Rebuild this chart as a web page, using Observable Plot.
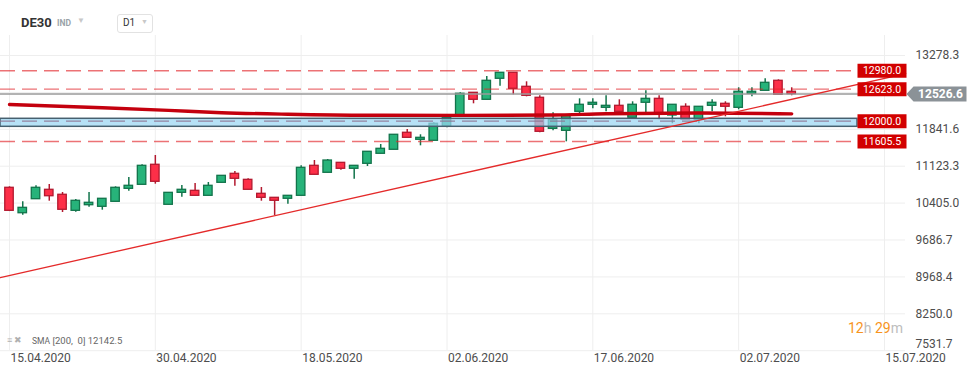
<!DOCTYPE html>
<html>
<head>
<meta charset="utf-8">
<script src="https://cdn.jsdelivr.net/npm/d3@7"></script>
<script src="https://cdn.jsdelivr.net/npm/@observablehq/plot@0.6"></script>
<style>
  html, body { margin: 0; padding: 0; background: #fff; }
  #wrap { position: relative; width: 974px; height: 375px; font-family: Roboto, "Noto Sans", sans-serif; overflow: hidden; }
  #wrap svg { position: absolute; left: 0; top: 0; }
  .ov { position: absolute; white-space: nowrap; }
</style>
</head>
<body>
<div id="wrap"></div>
<script>
// ---- data (bar index 0 = 15.04.2020) ----
const open  = [10703,10208,10481,10664,10567,10255,10364,10333,10430,10683,10761,11151,10372,10605,10644,10547,10800,10975,10858,10586,
               10508,10489,10547,11131,10995,11189,11073,11170,11365,11443,11774,11637,11618,11890,12110,12552,12416,12825,12942,12669,
               12455,11851,11812,12182,12319,12260,12299,12066,12358,12435,12110,12280,12027,12299,12338,12260,12533,12591,12786,12572];
const high  = [10722,10430,10742,10767,10611,10475,10611,10489,10722,10903,11151,11332,10605,10748,10787,10806,10936,11020,10878,10709,
               10508,10547,11131,11234,11254,11189,11131,11404,11546,11735,11838,11735,11968,12066,12552,12552,12870,12942,12942,12766,
               12494,12163,12104,12435,12435,12494,12416,12377,12591,12494,12319,12338,12280,12416,12377,12650,12650,12825,12805,12650];
const low   = [10240,10169,10481,10442,10222,10228,10325,10267,10430,10637,10761,10773,10372,10520,10547,10547,10800,10734,10664,10442,
               10164,10384,10547,10956,10995,11045,10870,11117,11365,11443,11676,11520,11618,11871,12110,12338,12416,12681,12513,12474,
               11774,11812,11598,12143,12241,12182,12143,12066,12163,12027,11949,12027,11949,12182,12085,12221,12474,12591,12513,12494];
const close = [10255,10313,10703,10539,10275,10450,10411,10489,10703,10742,11131,10820,10605,10664,10547,10742,10936,10878,10664,10508,
               10450,10547,11092,10956,11234,11073,11131,11404,11462,11735,11676,11676,11949,12066,12533,12416,12786,12942,12630,12494,
               11793,12027,12104,12319,12358,12299,12182,12319,12435,12124,12319,12027,12280,12358,12280,12572,12572,12747,12513,12526.6];

const smaIdx = [0, 7, 12, 16, 21, 27, 34, 41, 45, 52, 59];
const smaVal = [12325, 12262, 12210, 12165, 12135, 12115, 12112, 12120, 12145, 12158, 12142.5];

const trendIdx = [-0.7, 67.6];
const trendVal = [8955, 12925];

const levelVals = [12980, 12623, 12000, 11605.5];
const zoneLow = 11890, zoneHigh = 12046;
const lastPrice = 12526.6;

const yGridTicks = [13278.3, 12560.0, 11841.6, 11123.3, 10405.0, 9686.7, 8968.4, 8250.0, 7531.7];
const yLabelTicks = [13278.3, 11841.6, 11123.3, 10405.0, 9686.7, 8968.4, 8250.0];
const yBottomTick = 7531.7;
const xTickIdx = [0, 11, 22, 33, 44, 55, 66];
const xTickLabels = ["15.04.2020", "30.04.2020", "18.05.2020", "02.06.2020", "17.06.2020", "02.07.2020", "15.07.2020"];

// ---- build tables ----
const candles = open.map((o, i) => ({i, o, h: high[i], l: low[i], c: close[i], up: close[i] >= o}));
const sma = smaIdx.map((x, k) => ({x, y: smaVal[k]}));
const trend = trendIdx.map((x, k) => ({x, y: trendVal[k]}));
const levels = levelVals.map(v => ({v, label: v.toFixed(1), inZone: v >= zoneLow && v <= zoneHigh}));

const G_FILL = "#27b37a", G_STROKE = "#12744b";
const R_FILL = "#fd2f48", R_STROKE = "#b3192f";

const boxSymbol = { draw(ctx) { ctx.moveTo(-48, -7); ctx.lineTo(1, -7); ctx.lineTo(1, 7); ctx.lineTo(-48, 7); ctx.closePath(); } };
const priceSymbol = { draw(ctx) { ctx.moveTo(1, 0); ctx.lineTo(8, -7.5); ctx.lineTo(61, -7.5); ctx.lineTo(61, 7.5); ctx.lineTo(8, 7.5); ctx.closePath(); } };

const plot = Plot.plot({
  width: 974,
  height: 375,
  marginLeft: 0,
  marginRight: 69,
  marginTop: 35,
  marginBottom: 25,
  style: { fontFamily: "Roboto, sans-serif", fontSize: "12px", color: "#4d4d4d", background: "transparent" },
  x: { type: "linear", domain: [0, 66], range: [9, 884] },
  y: { type: "linear", domain: [yBottomTick, 13278.3], range: [350.2, 55] },
  marks: [
    Plot.gridY(yGridTicks, { stroke: "#eeeeee", strokeOpacity: 1 }),
    Plot.gridX(xTickIdx, { stroke: "#eeeeee", strokeOpacity: 1 }),
    // candles
    Plot.ruleX(candles, { x: "i", y1: "l", y2: "h", stroke: d => d.up ? G_STROKE : R_STROKE, strokeWidth: 1.5 }),
    Plot.rect(candles, {
      x1: d => d.i - 0.32, x2: d => d.i + 0.32,
      y1: d => Math.min(d.o, d.c), y2: d => Math.max(d.o, d.c),
      fill: d => d.up ? G_FILL : R_FILL, stroke: d => d.up ? G_STROKE : R_STROKE, strokeWidth: 1.3
    }),
    // support zone
    Plot.rect([{lo: zoneLow, hi: zoneHigh}], { y1: "lo", y2: "hi", fill: "#9ad6f3", fillOpacity: 0.72, stroke: "#46606f", strokeWidth: 1.5, insetRight: 48 }),
    // dashed levels
    Plot.ruleY(levels, { y: "v", stroke: d => d.inZone ? "#8e7390" : "#e2272b", strokeOpacity: d => d.inZone ? 0.85 : 0.65, strokeWidth: 1.4, strokeDasharray: "15,7" }),
    // last price line
    Plot.ruleY([lastPrice], { stroke: "#9a9a9a", strokeWidth: 1.5 }),
    // SMA 200
    Plot.line(sma, { x: "x", y: "y", stroke: "#c4000e", strokeWidth: 3.4, curve: "monotone-x" }),
    // trend line
    Plot.line(trend, { x: "x", y: "y", stroke: "#e42a2a", strokeWidth: 1.3 }),
    // y axis
    Plot.axisY(yLabelTicks, { anchor: "right", tickSize: 0, tickPadding: 10, tickFormat: d => d.toFixed(1), fontSize: 12, fill: "#4d4d4d" }),
    Plot.text([yBottomTick], { y: d => d, frameAnchor: "right", dx: 10, dy: -7, textAnchor: "start", text: d => d.toFixed(1), fontSize: 12, fill: "#4d4d4d" }),
    // x axis
    Plot.axisX(xTickIdx, { anchor: "bottom", tickSize: 0, tickPadding: 3, textAnchor: "start", dx: 1, tickFormat: i => xTickLabels[xTickIdx.indexOf(i)], fontSize: 12, fill: "#4d4d4d" }),
    // level labels
    Plot.dot(levels, { y: "v", frameAnchor: "right", symbol: boxSymbol, r: 5, fill: "#d20000", stroke: "none" }),
    Plot.text(levels, { y: "v", frameAnchor: "right", dx: -23.5, textAnchor: "middle", text: "label", fill: "#ffffff", fontSize: 10.5 }),
    // price marker
    Plot.dot([lastPrice], { y: d => d, frameAnchor: "right", symbol: priceSymbol, r: 5, fill: "#8b9297", stroke: "none" }),
    Plot.text([lastPrice], { y: d => d, frameAnchor: "right", dx: 35, textAnchor: "middle", text: d => d.toFixed(1), fill: "#ffffff", fontSize: 12, fontWeight: "bold" })
  ]
});

const wrap = document.getElementById("wrap");
wrap.appendChild(plot);

// overlays (header, indicator legend, countdown)
wrap.insertAdjacentHTML("beforeend", `
  <div class="ov" style="left:0;top:0;width:905px;height:34px;background:#fff;"></div>
  <div class="ov" style="left:21px;top:15px;font-size:13px;font-weight:bold;color:#333;">DE30</div>
  <div class="ov" style="left:57px;top:18px;font-size:8.5px;font-weight:bold;color:#9aa3a8;">IND</div>
  <div class="ov" style="left:77px;top:16px;font-size:8px;color:#c8c8c8;">▼</div>
  <div class="ov" style="left:117px;top:14px;width:34px;height:17px;border:1px solid #e2e2e2;border-radius:3px;box-sizing:content-box;"></div>
  <div class="ov" style="left:123px;top:17px;font-size:10px;color:#333;">D1</div>
  <div class="ov" style="left:141px;top:18px;font-size:7px;color:#c8c8c8;">▼</div>
  <div class="ov" style="left:7px;top:335px;font-size:9px;color:#b0b0b0;">≡ ✖</div>
  <div class="ov" style="left:32px;top:335px;font-size:9.5px;color:#666;"><span style="font-size:8.5px">SMA</span> [200,&nbsp; 0] 12142.5</div>
  <div class="ov" style="left:848px;top:320px;font-size:14px;color:#bdbdbd;"><span style="color:#f7941d">12</span>h <span style="color:#f7941d">29</span>m</div>
`);
</script>
</body>
</html>
